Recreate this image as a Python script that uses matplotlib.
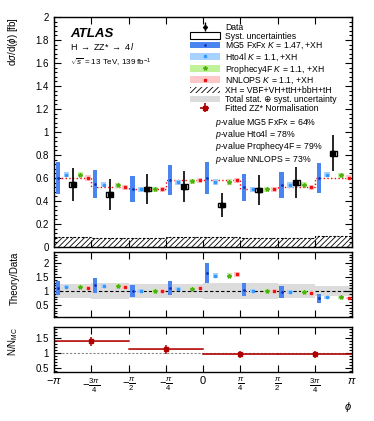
import numpy as np
import matplotlib.pyplot as plt
from matplotlib.patches import Patch, Rectangle
from matplotlib.lines import Line2D
from matplotlib.ticker import MultipleLocator, FuncFormatter

plt.rcParams['font.family'] = ['Liberation Sans', 'DejaVu Sans']
plt.rcParams['mathtext.fontset'] = 'custom'
plt.rcParams['mathtext.rm'] = 'Liberation Sans'
plt.rcParams['mathtext.it'] = 'Liberation Sans:italic'
plt.rcParams['mathtext.bf'] = 'Liberation Sans:bold'
plt.rcParams['hatch.linewidth'] = 0.6

# Differential cross-section in 8 bins of phi (fb)
data_val = [0.545, 0.458, 0.504, 0.525, 0.365, 0.496, 0.560, 0.815]
data_err = [0.143, 0.135, 0.133, 0.133, 0.105, 0.134, 0.135, 0.157]
data_syst = [0.022, 0.020, 0.020, 0.020, 0.018, 0.020, 0.020, 0.024]
mg5_val = [0.597, 0.548, 0.504, 0.583, 0.600, 0.519, 0.539, 0.603]
mg5_err = [0.140, 0.125, 0.115, 0.130, 0.135, 0.115, 0.115, 0.130]
hto4l_val = [0.630, 0.540, 0.504, 0.563, 0.565, 0.504, 0.539, 0.630]
prophecy_val = [0.630, 0.535, 0.504, 0.570, 0.565, 0.504, 0.540, 0.625]
nnlops_val = [0.600, 0.520, 0.504, 0.580, 0.580, 0.504, 0.520, 0.603]
theory_box = 0.022
xh_val = [0.088, 0.080, 0.080, 0.090, 0.090, 0.080, 0.080, 0.095]

# Fitted ZZ* normalisation in 4 coarse bins
norm_val = [1.38, 1.12, 0.96, 0.96]
norm_err = [0.15, 0.14, 0.12, 0.12]

pvalues = [("MG5 FxFx", 64), ("Hto4l", 78), ("Prophecy4F", 79), ("NNLOPS", 73)]

tick_labels = [r'$-\pi$', r'$-\frac{3\pi}{4}$', r'$-\frac{\pi}{2}$', r'$-\frac{\pi}{4}$', '0',
               r'$\frac{\pi}{4}$', r'$\frac{\pi}{2}$', r'$\frac{3\pi}{4}$', r'$\pi$']

MG5_C = '#4a84f0'
MG5_DOT = '#1030c0'
HTO_BOX = '#a6d2ff'
HTO_DOT = '#3399ff'
PRO_BOX = '#c0f29a'
PRO_DOT = '#50b010'
NNL_BOX = '#ffc8c8'
NNL_DOT = '#ee1111'
NORM_C = '#b00000'

edges = np.linspace(-np.pi, np.pi, 9)
w = edges[1] - edges[0]
left = edges[:-1]
x_mg5 = left + 0.11 * w
x_hto = left + 0.33 * w
x_dat = left + 0.50 * w
x_pro = left + 0.71 * w
x_nnl = left + 0.91 * w
bar_w = 0.09
box_w = 0.115
syst_w = 0.15

fig = plt.figure(figsize=(3.74, 4.21), dpi=100)
ax = fig.add_axes([0.1444, 0.4133, 0.7968, 0.5463])
axr = fig.add_axes([0.1444, 0.2470, 0.7968, 0.1544])
axn = fig.add_axes([0.1444, 0.1164, 0.7968, 0.1069])


def draw_theory(a, vals, mg, box_err):
    for i in range(8):
        a.add_patch(Rectangle((x_mg5[i] - bar_w / 2, mg[0][i] - mg[1][i]), bar_w, 2 * mg[1][i],
                              fc=MG5_C, ec='none', zorder=2))
        for xs, v, c in ((x_hto, vals[0], HTO_BOX), (x_pro, vals[1], PRO_BOX), (x_nnl, vals[2], NNL_BOX)):
            a.add_patch(Rectangle((xs[i] - box_w / 2, v[i] - box_err[i]), box_w, 2 * box_err[i],
                                  fc=c, ec='none', zorder=2))
    a.plot(x_mg5, mg[0], '.', color=MG5_DOT, ms=2, zorder=3)
    a.plot(x_hto, vals[0], 's', color=HTO_DOT, ms=1.8, zorder=3)
    a.plot(x_pro, vals[1], '*', color=PRO_DOT, ms=3, zorder=3)
    a.plot(x_nnl, vals[2], 's', color=NNL_DOT, ms=1.8, zorder=3)


# ---- main panel
ax.stairs(xh_val, edges, fill=True, hatch='//////', facecolor='none', edgecolor='black',
          linewidth=0, zorder=1)
ax.stairs(xh_val, edges, baseline=None, color='black', ls=(0, (2, 1.5)), lw=0.8, zorder=1)
ax.stairs(nnlops_val, edges, baseline=None, color='red', ls=':', lw=1, zorder=1.5)
draw_theory(ax, (hto4l_val, prophecy_val, nnlops_val), (mg5_val, mg5_err), [theory_box] * 8)
for i in range(8):
    ax.add_patch(Rectangle((x_dat[i] - syst_w / 2, data_val[i] - data_syst[i]), syst_w,
                           2 * data_syst[i], fc='none', ec='black', lw=1, zorder=4))
ax.errorbar(x_dat, data_val, yerr=data_err, fmt='s', color='black', ms=2.8, elinewidth=1.2,
            capsize=0, zorder=5)
ax.set_ylim(0, 2)
ax.set_ylabel(r'd$\sigma$/d($\phi$) [fb]', fontsize=7, ha='right')
ax.yaxis.set_label_coords(-0.115, 1.0)

ax.text(0.055, 0.915, 'ATLAS', transform=ax.transAxes, fontsize=9.5, fontweight='bold',
        fontstyle='italic')
ax.text(0.055, 0.855, r'H $\rightarrow$ ZZ* $\rightarrow$ 4$l$', transform=ax.transAxes, fontsize=6.5)
ax.text(0.055, 0.79, r'$\sqrt{s}$ = 13 TeV, 139 fb$^{-1}$', transform=ax.transAxes, fontsize=5.8)

for k, (name, p) in enumerate(pvalues):
    ax.text(0.54, 0.53 - k * 0.053, f'$p$-value {name} = {p}%', transform=ax.transAxes,
            fontsize=6.3)

h_data = ax.errorbar([np.nan], [np.nan], yerr=[0.1], fmt='D', color='black', ms=2,
                     elinewidth=1, capsize=0)
h_fit = ax.errorbar([np.nan], [np.nan], xerr=[0.1], yerr=[0.1], fmt='s', color=NORM_C, ms=2.5,
                    elinewidth=1.2, capsize=0)
handles = [
    h_data,
    Patch(fc='white', ec='black', lw=0.8),
    (Patch(fc=MG5_C, ec='none'), Line2D([], [], marker='.', ls='', color=MG5_DOT, ms=2)),
    (Patch(fc=HTO_BOX, ec='none'), Line2D([], [], marker='s', ls='', color=HTO_DOT, ms=1.8)),
    (Patch(fc=PRO_BOX, ec='none'), Line2D([], [], marker='*', ls='', color=PRO_DOT, ms=3)),
    (Patch(fc=NNL_BOX, ec='none'), Line2D([], [], marker='s', ls='', color=NNL_DOT, ms=1.8)),
    Patch(fc='none', ec='black', hatch='//////', lw=0),
    Patch(fc='#dcdcdc', ec='none'),
    h_fit,
]
labels = ['Data', 'Syst. uncertainties', 'MG5 FxFx $K$ = 1.47, +XH', 'Hto4l $K$ = 1.1, +XH',
          'Prophecy4F $K$ = 1.1, +XH', 'NNLOPS $K$ = 1.1, +XH', 'XH = VBF+VH+ttH+bbH+tH',
          'Total stat. \u2295 syst. uncertainty', 'Fitted ZZ* Normalisation']
ax.legend(handles, labels, loc='upper left', bbox_to_anchor=(0.455, 0.975), frameon=False,
          fontsize=6.2, handlelength=3.5, handleheight=0.8, labelspacing=0.0,
          handletextpad=0.6, borderpad=0, borderaxespad=0)

# ---- ratio panel
for i in range(8):
    r = data_err[i] / data_val[i]
    axr.fill_between([edges[i], edges[i + 1]], 1 - r, 1 + r, color='#dcdcdc', lw=0, zorder=0)
axr.axhline(1, color='black', ls=(0, (3, 2)), lw=0.8, zorder=1)
dv = np.array(data_val)
r_hto = np.array(hto4l_val) / dv
r_pro = np.array(prophecy_val) / dv
r_nnl = np.array(nnlops_val) / dv
r_mg5 = np.array(mg5_val) / dv
r_mg5_err = np.array(mg5_err) / dv
draw_theory(axr, (r_hto, r_pro, r_nnl), (r_mg5, r_mg5_err), 1.6 * theory_box / dv)
axr.set_ylim(0.07, 2.39)
axr.set_ylabel('Theory/Data', fontsize=7, ha='right')
axr.yaxis.set_label_coords(-0.115, 1.0)

# ---- normalisation panel
nedges = np.linspace(-np.pi, np.pi, 5)
ncent = 0.5 * (nedges[:-1] + nedges[1:])
axn.axhline(1, color='#888888', ls=(0, (2, 1.5)), lw=0.8, zorder=1)
for i in range(4):
    axn.fill_between([nedges[i], nedges[i + 1]], norm_val[i] - 0.02, norm_val[i] + 0.02,
                     color='#f0a0a0', lw=0, zorder=1.5)
    axn.plot([nedges[i], nedges[i + 1]], [norm_val[i]] * 2, color=NORM_C, lw=1.1, zorder=2)
axn.errorbar(ncent, norm_val, yerr=norm_err, fmt='s', color=NORM_C, ms=2.8, elinewidth=1.1,
             capsize=0, zorder=3)
axn.set_ylim(0.375, 1.855)
axn.set_ylabel(r'N/N$_{\mathrm{MC}}$', fontsize=7, ha='right')
axn.yaxis.set_label_coords(-0.115, 1.0)
axn.set_xlabel(r'$\phi$', fontsize=8, ha='right', x=1.0)

fmt = FuncFormatter(lambda v, pos: f'{v:g}')
for a, major, minor in ((ax, 0.2, 0.04), (axr, 0.5, 0.1), (axn, 0.5, 0.1)):
    a.set_xlim(-np.pi, np.pi)
    a.set_xticks(edges)
    a.yaxis.set_major_locator(MultipleLocator(major))
    a.yaxis.set_minor_locator(MultipleLocator(minor))
    a.yaxis.set_major_formatter(fmt)
    a.tick_params(which='both', direction='in', top=True, right=True, labelsize=7, width=0.8)
    a.tick_params(which='major', length=5)
    a.tick_params(which='minor', length=2.5)
    for s in a.spines.values():
        s.set_linewidth(1)
ax.set_xticklabels([])
axr.set_xticklabels([])
axn.set_xticklabels(tick_labels)
axn.tick_params(axis='x', labelsize=8, pad=3)

fig.savefig('out.png', dpi=100)
